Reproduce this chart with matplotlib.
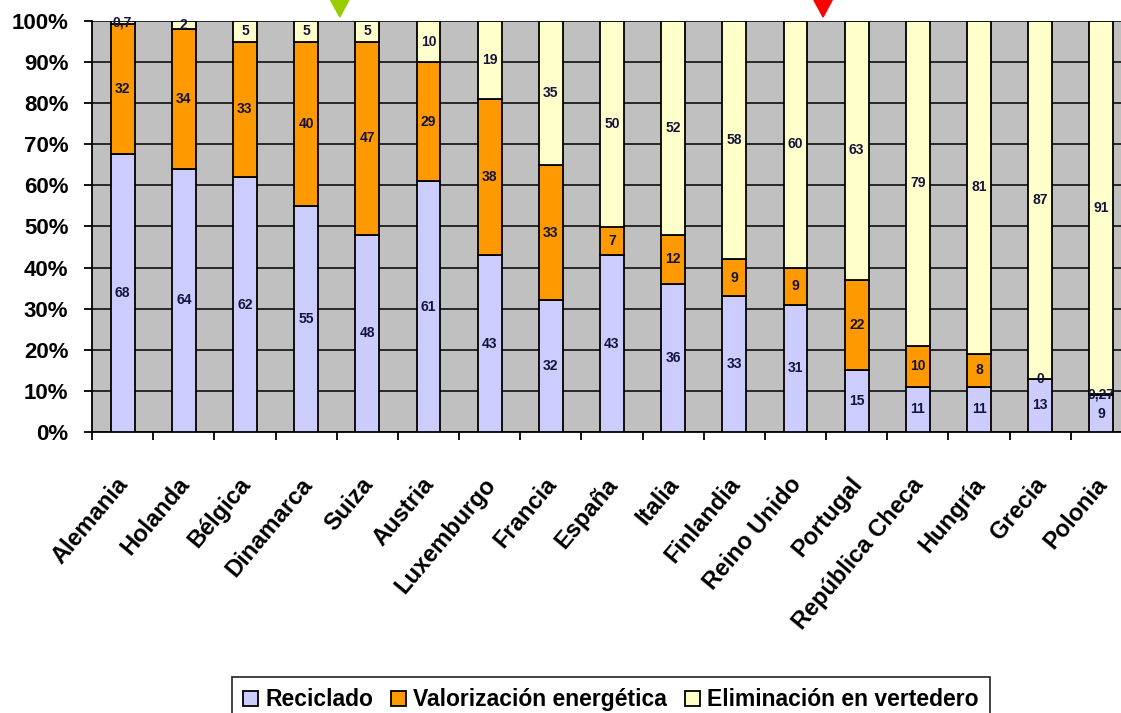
import matplotlib
matplotlib.use("Agg")
import matplotlib.pyplot as plt
import matplotlib.transforms as mtransforms
import numpy as np

countries = ["Alemania", "Holanda", "Bélgica", "Dinamarca", "Suiza", "Austria",
             "Luxemburgo", "Francia", "España", "Italia", "Finlandia", "Reino Unido",
             "Portugal", "República Checa", "Hungría", "Grecia", "Polonia"]
reciclado = [68, 64, 62, 55, 48, 61, 43, 32, 43, 36, 33, 31, 15, 11, 11, 13, 9]
valorizacion = [32, 34, 33, 40, 47, 29, 38, 33, 7, 12, 9, 9, 22, 10, 8, 0, 0.27]
eliminacion = [0.7, 2, 5, 5, 5, 10, 19, 35, 50, 52, 58, 60, 63, 79, 81, 87, 91]
series_names = ["Reciclado", "Valorización energética", "Eliminación en vertedero"]
colors = ["#CCCCFF", "#FF9900", "#FFFFCC"]
yticks = [0, 10, 20, 30, 40, 50, 60, 70, 80, 90, 100]
marker_pos = [3.55, 11.45]
marker_colors = ["#99CC00", "#FF0000"]

plt.rcParams['font.family'] = ['Liberation Sans', 'DejaVu Sans']

fig = plt.figure(figsize=(11.21, 7.13), dpi=100)
W, H = 1121, 713
ax = fig.add_axes([92 / W, (H - 432) / H, (1132 - 92) / W, (432 - 21) / H])
ax.set_facecolor("#C0C0C0")

data = np.array([reciclado, valorizacion, eliminacion], dtype=float)
tot = data.sum(axis=0)
pct = data / tot * 100
x = np.arange(len(countries))
bottom = np.zeros(len(countries))
bars = []
for i in range(3):
    b = ax.bar(x, pct[i], bottom=bottom, width=0.39, color=colors[i],
               edgecolor="black", linewidth=1.3, zorder=3, label=series_names[i])
    bars.append(b)
    for j in range(len(countries)):
        v = data[i][j]
        txt = ("%g" % v).replace(".", ",")
        ax.text(x[j], bottom[j] + pct[i][j] / 2, txt, ha="center", va="center",
                fontsize=10, fontweight="bold", color="#14143a", zorder=5)
    bottom = bottom + pct[i]

ax.set_xlim(-0.5, len(countries) - 0.5)
ax.set_ylim(0, 100)
ax.set_yticks(yticks)
ax.set_yticklabels(["%d%%" % t for t in yticks], fontsize=16, fontweight="bold")
ax.yaxis.grid(True, color="black", linewidth=1.1, zorder=1)
ax.set_axisbelow(True)
ax.set_xticks(x)
ax.set_xticklabels(countries, rotation=50, ha="right", va="top",
                   rotation_mode="anchor", fontsize=17, fontweight="bold")
ax.tick_params(axis="x", length=0, pad=8)
off = mtransforms.ScaledTranslation(-7 / 100, -30 / 100, fig.dpi_scale_trans)
for lbl in ax.get_xticklabels():
    lbl.set_transform(lbl.get_transform() + off)
ax.set_xticks(np.arange(-0.5, len(countries)), minor=True)
ax.tick_params(axis="x", which="minor", length=6, width=1.3)
ax.tick_params(axis="y", length=6, width=1.3, pad=11)
for s in ["top", "right"]:
    ax.spines[s].set_visible(False)
ax.spines["left"].set_linewidth(1.3)
ax.spines["bottom"].set_linewidth(1.3)

# triangle markers above the plot
tr = mtransforms.blended_transform_factory(ax.transData, fig.transFigure)
for p, c in zip(marker_pos, marker_colors):
    ax.fill([p - 0.15, p + 0.15, p], [1.0, 1.0, 1 - 17 / H], color=c,
            transform=tr, clip_on=False, zorder=6)

leg = fig.legend(handles=bars, labels=series_names, loc="lower center",
                 bbox_to_anchor=(611 / W, -0.03), ncol=3, frameon=True, fancybox=False,
                 edgecolor="black", prop={"size": 16.5, "weight": "bold"},
                 handlelength=0.65, handleheight=0.65, handletextpad=0.3, columnspacing=0.8,
                 borderpad=0.5)
leg.get_frame().set_linewidth(1.3)

fig.savefig("out.png", dpi=100)
